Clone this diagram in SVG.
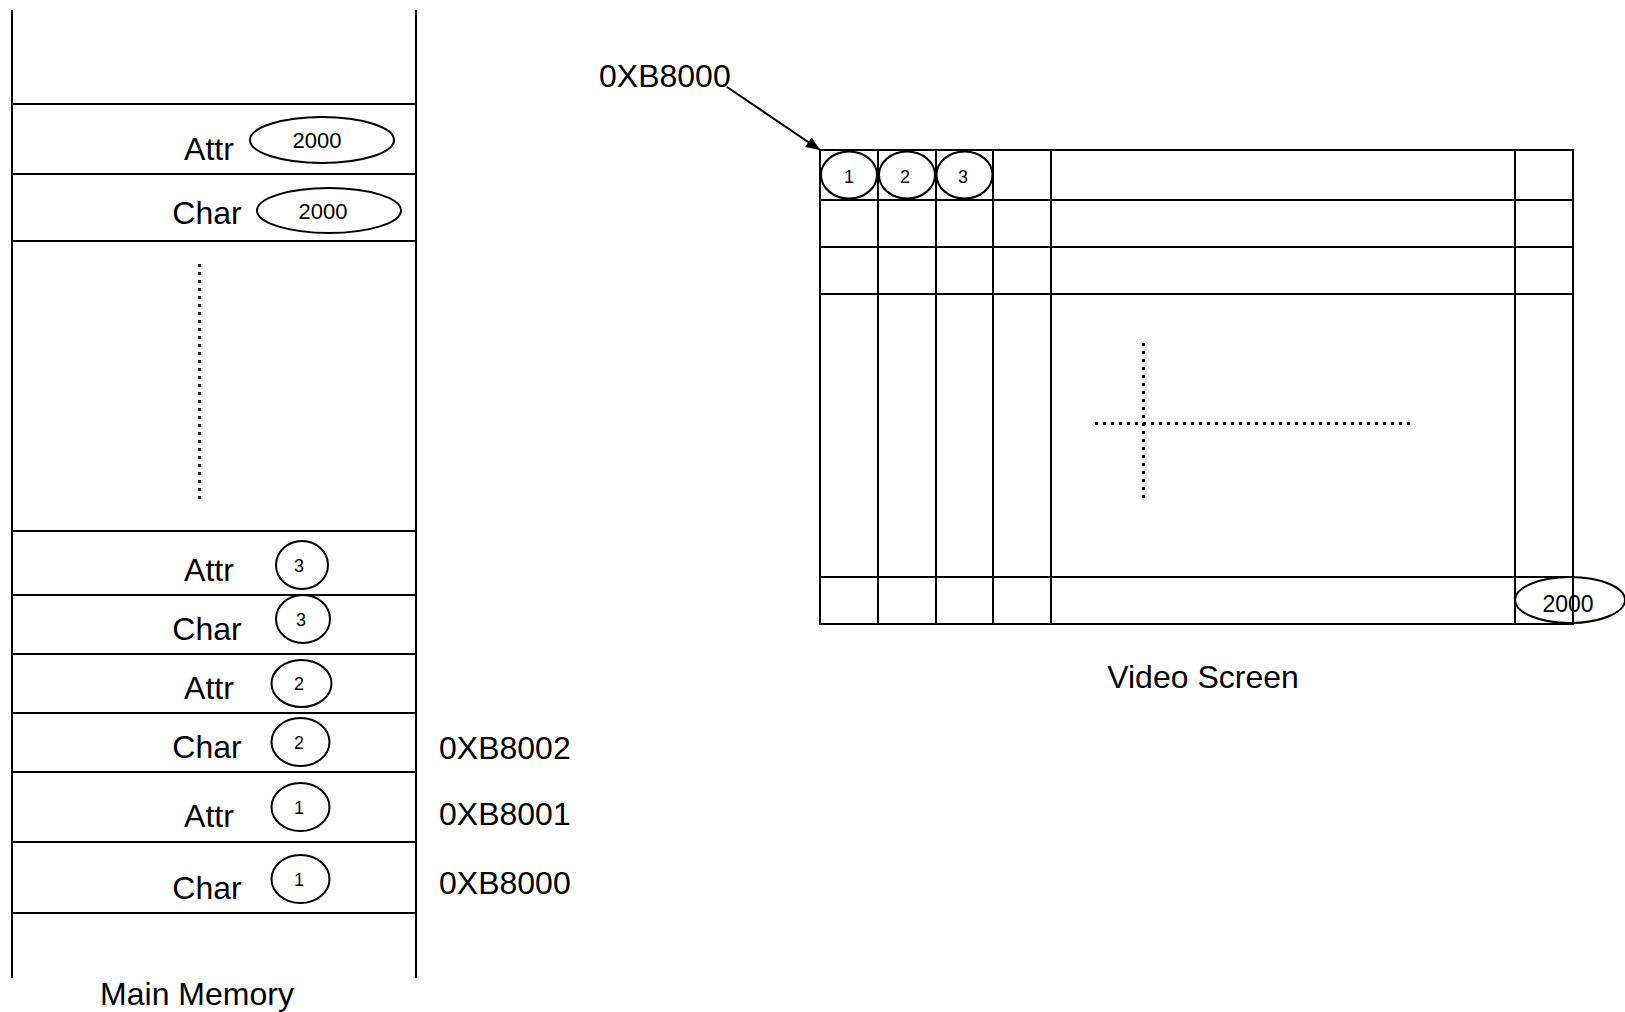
<svg xmlns="http://www.w3.org/2000/svg" width="1625" height="1012" viewBox="0 0 1625 1012">
<style>
  .ln { stroke: #000; stroke-width: 2; fill: none; }
  .dot { stroke: #000; stroke-width: 3; stroke-dasharray: 3 5; fill: none; }
  .ov { stroke: #000; stroke-width: 2; fill: none; }
  .lbl { font-family: "Liberation Sans", Arial, sans-serif; font-size: 32px; fill: #000; }
  .mid { text-anchor: middle; }
  .num { font-family: "Liberation Sans", Arial, sans-serif; font-size: 18px; fill: #000; text-anchor: middle; }
  .big { font-family: "Liberation Sans", Arial, sans-serif; font-size: 22px; fill: #000; text-anchor: middle; }
</style>
<defs>
  <marker id="arr" viewBox="0 0 14 12" refX="14" refY="6" markerWidth="14" markerHeight="12" markerUnits="userSpaceOnUse" orient="auto">
    <path d="M0,0 L14,6 L0,12 z" fill="#000"/>
  </marker>
</defs>
<rect width="1625" height="1012" fill="#fff"/>

<g id="main-memory">
  <line class="ln" x1="12" y1="10" x2="12" y2="978"/>
  <line class="ln" x1="416" y1="10" x2="416" y2="978"/>
  <line class="ln" x1="12" y1="104" x2="416" y2="104"/>
  <line class="ln" x1="12" y1="174" x2="416" y2="174"/>
  <line class="ln" x1="12" y1="241" x2="416" y2="241"/>
  <line class="ln" x1="12" y1="531" x2="416" y2="531"/>
  <line class="ln" x1="12" y1="595" x2="416" y2="595"/>
  <line class="ln" x1="12" y1="654" x2="416" y2="654"/>
  <line class="ln" x1="12" y1="713" x2="416" y2="713"/>
  <line class="ln" x1="12" y1="772" x2="416" y2="772"/>
  <line class="ln" x1="12" y1="842" x2="416" y2="842"/>
  <line class="ln" x1="12" y1="913" x2="416" y2="913"/>
  <line class="dot" x1="199.5" y1="264" x2="199.5" y2="500"/>
  <text class="lbl mid" x="197" y="1005">Main Memory</text>
</g>

<g id="mem-attr-2000">
  <text class="lbl mid" x="209" y="160">Attr</text>
  <ellipse class="ov" cx="322" cy="140" rx="72" ry="23"/>
  <text class="big" x="317" y="148">2000</text>
</g>
<g id="mem-char-2000">
  <text class="lbl mid" x="207" y="224">Char</text>
  <ellipse class="ov" cx="329" cy="210.5" rx="72" ry="22.5"/>
  <text class="big" x="323" y="219">2000</text>
</g>
<g id="mem-attr-3">
  <text class="lbl mid" x="209" y="581">Attr</text>
  <ellipse class="ov" cx="302" cy="565" rx="26" ry="24"/>
  <text class="num" x="299" y="572">3</text>
</g>
<g id="mem-char-3">
  <text class="lbl mid" x="207" y="640">Char</text>
  <ellipse class="ov" cx="303" cy="619" rx="27" ry="24"/>
  <text class="num" x="301" y="626">3</text>
</g>
<g id="mem-attr-2">
  <text class="lbl mid" x="209" y="699">Attr</text>
  <ellipse class="ov" cx="301.5" cy="683.5" rx="30" ry="23.5"/>
  <text class="num" x="299" y="690">2</text>
</g>
<g id="mem-char-2">
  <text class="lbl mid" x="207" y="758">Char</text>
  <ellipse class="ov" cx="300.5" cy="742" rx="29" ry="24"/>
  <text class="num" x="299" y="749">2</text>
</g>
<g id="mem-attr-1">
  <text class="lbl mid" x="209" y="827">Attr</text>
  <ellipse class="ov" cx="300.5" cy="807" rx="29" ry="24"/>
  <text class="num" x="299" y="814">1</text>
</g>
<g id="mem-char-1">
  <text class="lbl mid" x="207" y="899">Char</text>
  <ellipse class="ov" cx="300.5" cy="879" rx="29" ry="24"/>
  <text class="num" x="299" y="886">1</text>
</g>

<g id="addresses">
  <text class="lbl" x="439" y="759">0XB8002</text>
  <text class="lbl" x="439" y="825">0XB8001</text>
  <text class="lbl" x="439" y="894">0XB8000</text>
</g>

<g id="video-screen">
  <rect class="ln" x="820" y="150" width="753" height="474"/>
  <line class="ln" x1="878" y1="150" x2="878" y2="624"/>
  <line class="ln" x1="936" y1="150" x2="936" y2="624"/>
  <line class="ln" x1="993" y1="150" x2="993" y2="624"/>
  <line class="ln" x1="1051" y1="150" x2="1051" y2="624"/>
  <line class="ln" x1="1515" y1="150" x2="1515" y2="624"/>
  <line class="ln" x1="820" y1="200" x2="1573" y2="200"/>
  <line class="ln" x1="820" y1="247" x2="1573" y2="247"/>
  <line class="ln" x1="820" y1="294" x2="1573" y2="294"/>
  <line class="ln" x1="820" y1="577" x2="1573" y2="577"/>
  <line class="dot" x1="1143.5" y1="343" x2="1143.5" y2="500"/>
  <line class="dot" x1="1095" y1="423.5" x2="1413" y2="423.5"/>
  <text class="lbl mid" x="1203" y="688">Video Screen</text>
</g>

<g id="cell-1">
  <ellipse class="ov" cx="849" cy="175" rx="28" ry="23.5"/>
  <text class="num" x="849" y="183">1</text>
</g>
<g id="cell-2">
  <ellipse class="ov" cx="907" cy="175" rx="28" ry="23.5"/>
  <text class="num" x="905" y="183">2</text>
</g>
<g id="cell-3">
  <ellipse class="ov" cx="964.5" cy="175" rx="28" ry="23.5"/>
  <text class="num" x="963" y="183">3</text>
</g>
<g id="cell-2000">
  <ellipse class="ov" cx="1570" cy="600" rx="55" ry="23"/>
  <text class="big" x="1568" y="612" style="font-size:23px">2000</text>
</g>

<g id="screen-address">
  <text class="lbl" x="599" y="87">0XB8000</text>
</g>

<g id="connectors">
  <line class="ln" x1="727" y1="87" x2="820" y2="150" marker-end="url(#arr)"/>
</g>
</svg>
